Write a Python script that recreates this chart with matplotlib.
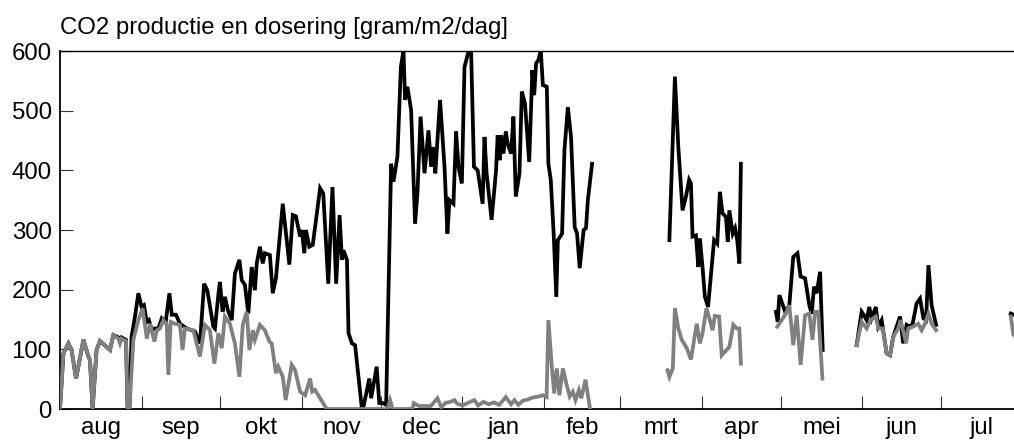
import matplotlib
matplotlib.use("Agg")
import matplotlib.pyplot as plt
import numpy as np

nan = np.nan

# ---- data (day index from 1 Aug) ----
month_labels = ["aug", "sep", "okt", "nov", "dec", "jan", "feb",
                "mrt", "apr", "mei", "jun", "jul"]
month_lengths = [31, 30, 31, 30, 31, 31, 29, 31, 30, 31, 30, 31]

# dosering (grey)
dos_days = [0, 1.3, 3.2, 4.4, 6.1, 8.9, 10.8, 11.4, 12.4, 13.9, 15.2, 19, 20.3,
            22.2, 22.8, 23.4, 25.1, 25.7, 26.4, 27.9, 29.8, 31.4, 33, 34.2,
            35.9, 36.8, 38, 39.3, 40.6, 41.2, 42.1, 43.7, 45.6, 46.6, 47.5,
            50.7, 53.2, 55.1, 57, 58.7, 60.2, 61.5, 62.7, 64.6, 66.5, 68.2,
            69.5, 71, 72, 73.3, 74.1, 76, 77.9, 79.6, 80.5, 82.1, 83, 84.7,
            85.8, 88.1, 89.4, 91.3, 93.2, 95.1, 95.9, 97, 98.9, 101.4,
            110, 120, 124.5, 125.5, 126.5, 134, 134.5, 136.5, 141, 143.5,
            145, 146.5, 148.5, 150, 151, 153, 155, 157.5, 159, 161, 163, 165,
            167, 169.5, 171.5, 172.8, 174.3, 176, 178, 179.5, 182, 183.6, 185,
            185.7, 187, 187.9, 188.9, 189.9, 191.2, 192.5, 193.8, 195, 196,
            197.3, 198.2, 199.8, 201.5,
            216,
            231.0, 231.7, 233, 233.8, 235.1, 236.4, 238.3, 239.9, 242.1, 243.3,
            244.3, 245.8, 247.1, 248.1, 249, 250.6, 251.6, 252.8, 254.5, 256,
            257.3, 258.3, 258.9,
            265,
            272.7, 274.4, 276, 277.3, 278.8, 280.1, 281.6, 283.3, 284.9, 286.1,
            287.1, 288.3, 289.9,
            296,
            302.9, 304.8, 306.7, 308.2, 310.2, 311.1, 312.8, 314.3, 315.6, 316.8,
            318.7, 319.6, 321.7, 322.5, 324.4, 326.3, 327.6, 328.9, 330.2, 331.4,
            333.1,
            350,
            361.5, 362.5, 363.5]
dos_vals = [0, 93, 110, 99, 51, 116, 88, 82, 0, 99, 114, 99, 124,
            118, 110, 118, 114, 0, 0, 116, 149, 169, 118, 143,
            113, 132, 135, 149, 141, 57, 146, 143, 141, 99, 135,
            132, 88, 141, 132, 76, 127, 102, 155, 143, 110, 54,
            141, 163, 99, 132, 116, 141, 132, 113, 110, 60, 71, 54,
            15, 74, 65, 29, 23, 51, 29, 32, 18, 0,
            0, 0, 0, 15, 0, 0, 10, 5, 5, 18,
            3, 10, 12, 15, 9, 6, 10, 15, 6, 12, 8, 11,
            7, 20, 8, 15, 7, 14, 16, 19, 21, 23, 20,
            149, 71, 26, 68, 23, 68, 43, 21, 29, 15,
            32, 18, 49, 1,
            nan,
            65, 54, 68, 169, 135, 116, 102, 83, 143, 110,
            127, 169, 149, 132, 156, 155, 90, 96, 104, 141,
            135, 135, 76,
            nan,
            138, 149, 160, 174, 107, 157, 74, 157, 160, 116,
            163, 163, 51,
            nan,
            107, 146, 135, 149, 155, 135, 135, 93, 90, 121,
            135, 149, 110, 135, 138, 143, 132, 143, 160, 143,
            132,
            nan,
            155, 125, 120]

# productie (black)
prod_days = [0, 1.3, 3.2, 4.4, 6.1, 8.9, 10.8, 11.4, 12.4, 13.9, 15.2, 19, 20.3,
             22.2, 22.8, 23.4, 25.1, 25.7, 26.4, 27.2, 28.5, 29.8, 31, 31.9,
             33, 33.8, 34.9, 36.1, 37.4, 38.7, 40.2, 41.6, 42.5, 44.1, 45.6,
             48.2, 51.3, 53.2, 54.8, 56, 58.3, 58.9, 60.2, 60.8, 61.8, 62.7,
             63.8, 65.3, 66.5, 68.2, 69.1, 70.3, 71.6, 72.9, 74.1, 74.8, 76,
             77.1, 77.9, 79.8, 80.9, 82.1, 84.7, 87.2, 88.5, 89.7, 91.3, 91.9,
             92.9, 93.5, 94.8, 96.1, 98.9, 100.1, 102, 103.6, 105, 106.3,
             107.2, 107.8, 109.1, 109.7, 111, 112.2, 114.7, 115.4, 117.6,
             118.3, 120.4, 121.4, 122.7, 124, 125.9, 126.8, 128.3, 129.6,
             130.6, 131.2, 132.1, 133.5, 135, 135.9, 137.1, 138.6, 140.1,
             141.1, 142, 142.7, 144.5, 146.2, 147.3, 148.1, 149.6, 150.6,
             151.5, 152.8, 153.8, 155.3, 156.3, 157.4, 158.8, 160.7, 161.4,
             162.2, 164.1, 165.8, 166.4, 167.3, 167.7, 168.6, 169.5, 170.2,
             171.5, 172.4, 173.3, 174.7, 175.6, 176.8, 178.4, 179.6, 180.3,
             181, 181.9, 182.8, 183.6, 185.1, 185.7, 186.6, 187.7, 188.7,
             189.3, 190.9, 191.8, 193.1, 194.3, 195.7, 196.6, 197.6, 199.1,
             200, 200.7, 202.3,
             216,
             231.7, 233.8, 235.1, 236.7, 238, 239.2, 239.9, 240.5, 241.8,
             242.7, 243.3, 244.3, 245.2, 246.4, 248.7, 249.9, 250.9, 251.9,
             253.2, 253.9, 254.5, 255.8, 256.7, 257.5, 258.3, 258.9,
             265,
             272.2, 272.9, 273.5, 275.7, 277.3, 278.8, 280.4, 281.6, 283.3,
             284.9, 285.8, 286.7, 287.7, 289, 290,
             296,
             302.9, 304.8, 305.7, 306.7, 307.7, 308.6, 310.2, 311.1, 312.4,
             314.3, 315.6, 316.8, 319.4, 320.6, 321.9, 323.2, 324.2, 325.7, 327,
             328.3, 329.3, 330.2, 331.4, 333.1,
             350,
             361.5, 362.5, 363.5]
prod_vals = [0, 93, 110, 99, 51, 116, 88, 82, 0, 99, 114, 99, 124,
             120, 115, 120, 116, 0, 0, 121, 155, 194, 171, 174,
             146, 149, 132, 135, 135, 152, 146, 194, 158, 158, 143,
             135, 130, 110, 210, 199, 138, 135, 191, 213, 163, 188,
             166, 149, 227, 250, 216, 208, 160, 238, 199, 244, 272,
             244, 261, 258, 194, 219, 344, 242, 325, 323, 289, 300,
             261, 300, 272, 275, 370, 361, 210, 372, 210, 325,
             250, 266, 250, 127, 110, 107, 4, 4, 51,
             18, 71, 10, 10, 7, 411, 381, 423, 573,
             601, 518, 540, 501, 311, 361, 490, 395, 467,
             406, 439, 395, 518, 406, 294, 350, 344, 465,
             406, 378, 573, 599, 601, 406, 400, 344, 456,
             395, 317, 400, 459, 417, 459, 428, 465, 445,
             428, 490, 356, 395, 532, 512, 414, 568, 526,
             579, 585, 601, 543, 540, 411, 384, 294, 188,
             283, 294, 434, 506, 456, 305, 294, 236, 300,
             303, 350, 411,
             nan,
             283, 557, 439, 333, 356, 384, 378, 289, 291,
             238, 286, 238, 188, 171, 283, 277, 364, 328,
             322, 280, 333, 294, 303, 283, 244, 411,
             nan,
             163, 146, 191, 163, 174, 255, 261, 222, 219,
             174, 160, 205, 194, 230, 99,
             nan,
             107, 163, 157, 149, 171, 152, 171, 138, 149,
             93, 90, 121, 155, 110, 141, 138, 143, 177, 185,
             152, 149, 241, 174, 141,
             nan,
             160, 158, 158]

y_ticks = [0, 100, 200, 300, 400, 500, 600]
title = "CO2 productie en dosering [gram/m2/dag]"

# ---- figure ----
plt.rcParams["font.family"] = ["Liberation Sans", "DejaVu Sans"]
fig = plt.figure(figsize=(10.14, 4.42), dpi=100)
W, H = 1014, 442
x0, x1 = 60, 1022.6
ytop, ybot = 51, 409
ax = fig.add_axes([x0 / W, 1 - ybot / H, (x1 - x0) / W, (ybot - ytop) / H])

ax.plot(prod_days, prod_vals, color="black", lw=2.7, solid_joinstyle="miter",
        zorder=2)
ax.plot(dos_days, dos_vals, color="#808080", lw=2.7, solid_joinstyle="miter",
        zorder=3)

ax.set_xlim(0, 366)
ax.set_ylim(0, 600)

starts = np.concatenate([[0], np.cumsum(month_lengths)])
ax.set_xticks(starts[1:-1])
ax.set_xticklabels([])
mids = starts[:-1] + np.array(month_lengths) / 2
ax.set_xticks(mids, minor=True)
ax.set_xticklabels(month_labels, minor=True)
ax.tick_params(axis="x", which="major", direction="in", length=9.5,
               width=0.8, color="#333333")
ax.tick_params(axis="x", which="minor", length=0, pad=6, labelsize=17.3)

ax.set_yticks(y_ticks)
ax.tick_params(axis="y", direction="in", length=9.5, width=0.8,
               color="#333333", pad=6, labelsize=17.3)

for side in ["left", "bottom"]:
    ax.spines[side].set_linewidth(1.3)
ax.spines["top"].set_linewidth(1.0)
ax.spines["right"].set_visible(False)

fig.text(x0 / W, 1 - 34 / H, title, fontsize=17.3, ha="left", va="baseline")

fig.savefig("out.png", dpi=100)
